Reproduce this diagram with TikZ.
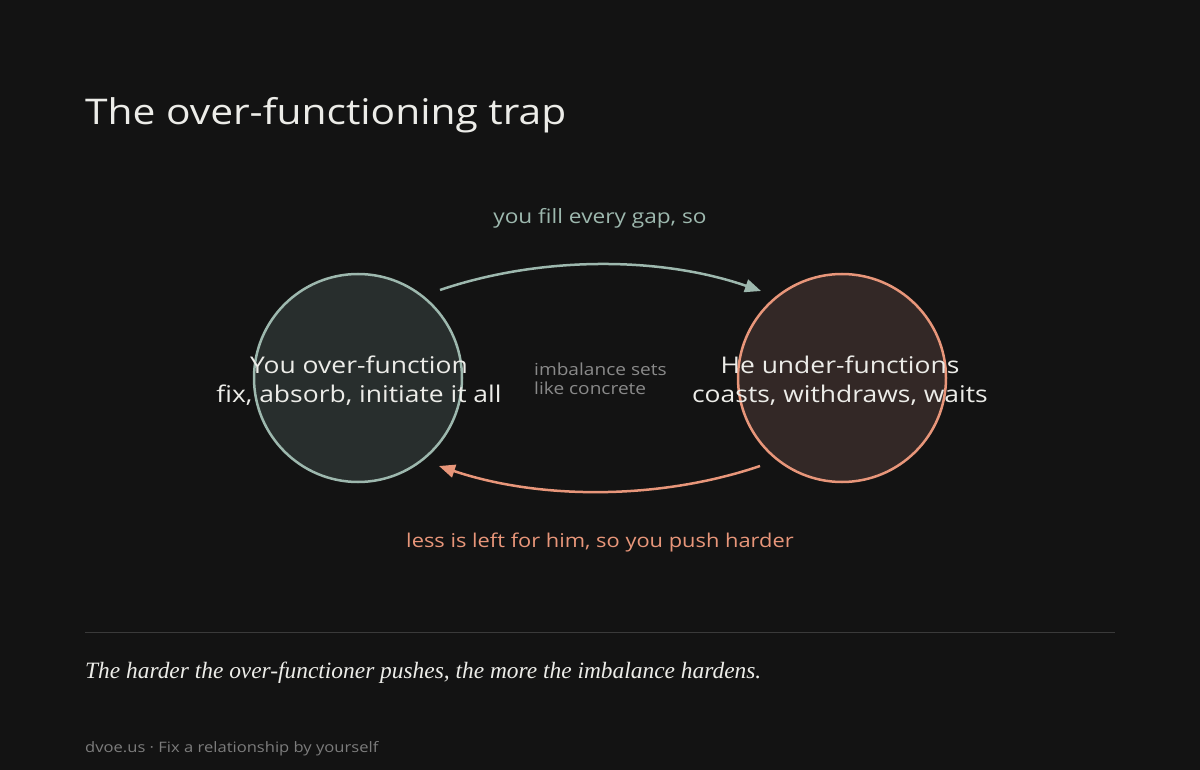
\documentclass[tikz,border=0pt]{standalone}
\usepackage{fontspec}
\setmainfont[FakeStretch=1.15]{Open Sans}
\newfontfamily\footserif{Liberation Serif}
\usetikzlibrary{arrows.meta}
\definecolor{bg}{HTML}{131313}
\definecolor{titlec}{HTML}{ECECE8}
\definecolor{sage}{HTML}{9DB8AE}
\definecolor{salmon}{HTML}{E8967A}
\definecolor{lfill}{HTML}{282E2D}
\definecolor{rfill}{HTML}{332826}
\definecolor{midgray}{HTML}{8A8A8A}
\definecolor{footgray}{HTML}{7C7C7C}
\definecolor{rulec}{HTML}{3A3A3A}
\tikzset{
  circnode/.style={circle, minimum size=208pt, inner sep=0pt, line width=2.5pt},
  nodetext/.style={text=titlec, font=\fontsize{23}{29}\selectfont, align=center},
  arc/.style={line width=2.5pt, -{Triangle[length=16pt,width=13pt]}},
}
\begin{document}
\begin{tikzpicture}[x=1pt,y=-1pt]
\fill[bg] (0,0) rectangle (1200,770);
\useasboundingbox (0,0) rectangle (1200,770);
\node[anchor=base west, text=titlec, font=\fontsize{35.4}{40}\selectfont, inner sep=0pt] (title) at (85,125) {The over-functioning trap};

\node[circnode, draw=sage, fill=lfill] (L) at (358,378) {};
\node[circnode, draw=salmon, fill=rfill] (R) at (842,378) {};
\node[nodetext] (Lt) at (359,381) {You over-function\\fix, absorb, initiate it all};
\node[nodetext] (Rt) at (840,381) {He under-functions\\coasts, withdraws, waits};

\coordinate (a1) at (440,290);
\coordinate (a2) at (761,291);
\coordinate (b1) at (760,466);
\coordinate (b2) at (439,466);
\draw[arc, sage] (a1) .. controls (540,256) and (660,256) .. (a2);
\draw[arc, salmon] (b1) .. controls (660,500) and (540,500) .. (b2);

\node[text=sage, font=\fontsize{19.7}{23}\selectfont] (top) at (600,218) {you fill every gap, so};
\node[text=salmon, font=\fontsize{19}{23}\selectfont] (bot) at (600,543) {less is left for him, so you push harder};
\node[anchor=west, text=midgray, font=\fontsize{16.6}{19}\selectfont, align=left, inner sep=0pt] (mid) at (534,379) {imbalance sets\\like concrete};

\draw[rulec, line width=1pt] (85,632) -- (1115,632);
\node[anchor=base west, inner sep=0pt, text=titlec, font=\footserif\itshape\fontsize{23.4}{28}\selectfont] (quote) at (85,678) {The harder the over-functioner pushes, the more the imbalance hardens.};
\node[anchor=base west, inner sep=0pt, text=footgray, font=\fontsize{14.4}{18}\selectfont] (foot) at (85,752) {dvoe.us · Fix a relationship by yourself};
\end{tikzpicture}
\end{document}
